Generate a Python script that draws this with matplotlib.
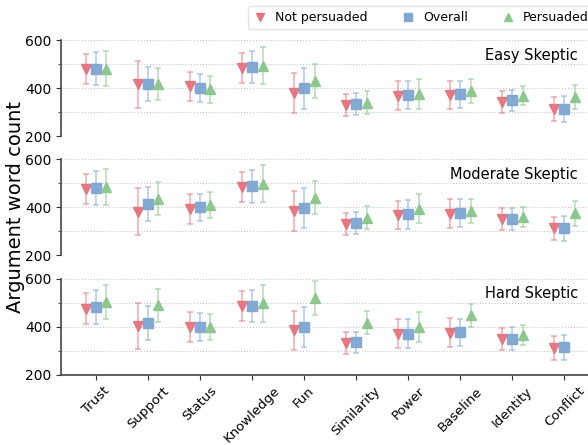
import numpy as np
from matplotlib import pyplot as plt
from matplotlib.lines import Line2D
from matplotlib.ticker import MultipleLocator

categories = ['Trust', 'Support', 'Status', 'Knowledge', 'Fun',
              'Similarity', 'Power', 'Baseline', 'Identity', 'Conflict']
panels = ['Easy Skeptic', 'Moderate Skeptic', 'Hard Skeptic']

# means and half-widths of the error bars
easy_not = [480, 416, 407, 484, 379, 330, 369, 371, 344, 312]
easy_not_err = [62, 97, 61, 62, 83, 45, 60, 60, 46, 50]
easy_all = [481, 416, 400, 488, 399, 334, 371, 375, 349, 313]
easy_all_err = [70, 70, 57, 67, 84, 47, 60, 56, 45, 53]
easy_per = [481, 417, 395, 494, 431, 339, 374, 388, 369, 365]
easy_per_err = [73, 68, 55, 77, 71, 47, 63, 48, 40, 50]

mod_not = [475, 381, 392, 484, 386, 330, 368, 374, 350, 313]
mod_not_err = [62, 98, 62, 62, 83, 45, 60, 59, 46, 49]
mod_all = [481, 415, 400, 487, 397, 334, 371, 375, 350, 313]
mod_all_err = [70, 71, 57, 68, 82, 45, 61, 58, 46, 52]
mod_per = [484, 436, 410, 498, 441, 356, 395, 385, 361, 375]
mod_per_err = [74, 68, 55, 77, 70, 48, 62, 48, 42, 51]

hard_not = [474, 404, 398, 486, 384, 332, 370, 375, 349, 311]
hard_not_err = [64, 96, 61, 62, 82, 44, 60, 59, 46, 49]
hard_all = [480, 415, 398, 486, 398, 334, 371, 376, 350, 314]
hard_all_err = [71, 71, 57, 68, 82, 44, 60, 56, 47, 52]
hard_per = [501, 488, 398, 498, 519, 416, 399, 448, 365, np.nan]
hard_per_err = [71, 68, 54, 77, 71, 47, 62, 48, 41, np.nan]

data = [
    [(easy_not, easy_not_err), (easy_all, easy_all_err), (easy_per, easy_per_err)],
    [(mod_not, mod_not_err), (mod_all, mod_all_err), (mod_per, mod_per_err)],
    [(hard_not, hard_not_err), (hard_all, hard_all_err), (hard_per, hard_per_err)],
]

labels = ['Not persuaded', 'Overall', 'Persuaded']
colors = ['#e6737d', '#7ea6d2', '#8ac68a']
markers = ['v', 's', '^']
offsets = [-0.2, 0.0, 0.2]

fig = plt.figure(figsize=(5.88, 4.45), dpi=100)
bottoms = [0.694, 0.426, 0.158]
height = 0.216
x = np.arange(len(categories))

axes = []
for i, name in enumerate(panels):
    ax = fig.add_axes([0.104, bottoms[i], 0.9, height])
    axes.append(ax)
    for j in range(3):
        vals, errs = data[i][j]
        ax.errorbar(x + offsets[j], vals, yerr=errs, fmt='none', ecolor=colors[j],
                    elinewidth=1.1, capsize=2.4, capthick=1.1, alpha=0.6, zorder=2)
        ax.plot(x + offsets[j], vals, linestyle='none', marker=markers[j], ms=7.3,
                color=colors[j], markeredgecolor=colors[j], alpha=0.95, zorder=3)
    ax.set_ylim(200, 600)
    ax.set_xlim(-0.67, 9.5)
    ax.set_yticks([200, 400, 600])
    ax.yaxis.set_minor_locator(MultipleLocator(100))
    ax.grid(axis='y', which='both', linestyle=':', linewidth=0.8, color='#c8c8c8', zorder=0)
    ax.tick_params(axis='y', labelsize=10, colors='#333333', labelcolor='black')
    ax.tick_params(axis='y', which='minor', length=2, colors='#333333')
    ax.spines['top'].set_visible(False)
    ax.spines['right'].set_visible(False)
    ax.spines['left'].set_color('#444444')
    ax.spines['left'].set_linewidth(1.2)
    ax.text(0.977, 0.84, name, transform=ax.transAxes, ha='right', va='center', fontsize=10.5)
    if i < 2:
        ax.spines['bottom'].set_visible(False)
        ax.set_xticks([])
    else:
        ax.spines['bottom'].set_color('#444444')
        ax.spines['bottom'].set_linewidth(1.2)
        ax.set_xticks(x)
        ax.set_xticklabels(categories, rotation=45, fontsize=9.5)
        ax.tick_params(axis='x', colors='#333333', labelcolor='black')

fig.text(0.027, 0.534, 'Argument word count', rotation=90, ha='center', va='center', fontsize=14)

handles = [Line2D([], [], linestyle='none', marker=markers[j], color=colors[j], ms=5.5)
           for j in range(3)]
fig.legend(handles, labels, loc='upper right', bbox_to_anchor=(1.02, 1.0), ncol=3,
           fontsize=9, frameon=True, columnspacing=2.6, handlelength=1.2,
           handletextpad=0.6, borderpad=0.4, edgecolor='#dddddd', fancybox=True)

plt.savefig('out.png', dpi=100)
